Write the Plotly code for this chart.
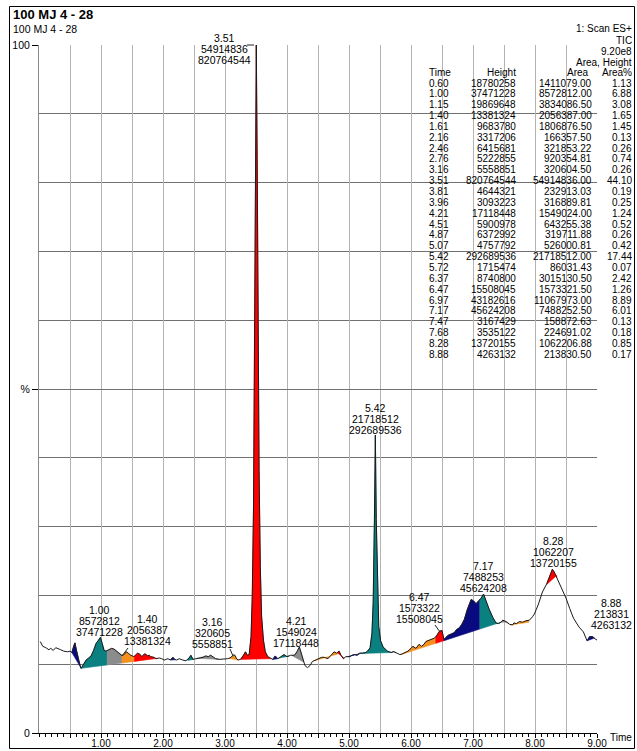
import math
import numpy as np
import plotly.graph_objects as go

# ---------------------------------------------------------------------------
# TIC trace: retention time (min) and relative intensity (% of 9.20e8)
# ---------------------------------------------------------------------------
trace_time = [
    0.02, 0.06, 0.11, 0.16, 0.19, 0.23, 0.27, 0.31, 0.35, 0.40, 0.46, 0.50,
    0.53, 0.56, 0.58, 0.60, 0.63, 0.66, 0.68, 0.72, 0.76, 0.80, 0.84, 0.88,
    0.92, 0.96, 0.99, 1.02, 1.05, 1.08, 1.10, 1.13, 1.17, 1.21, 1.25, 1.30,
    1.33, 1.36, 1.38, 1.41, 1.44, 1.48, 1.53, 1.56, 1.59, 1.62, 1.66, 1.70,
    1.73, 1.75, 1.78, 1.80, 1.85, 1.89, 1.94, 1.98, 2.02, 2.08, 2.12, 2.16,
    2.19, 2.22, 2.26, 2.32, 2.37, 2.42, 2.45, 2.48, 2.53, 2.57, 2.61, 2.65,
    2.69, 2.73, 2.77, 2.81, 2.85, 2.91, 2.96, 3.01, 3.04, 3.08, 3.11, 3.14,
    3.16, 3.18, 3.21, 3.25, 3.30, 3.33, 3.36, 3.39, 3.42, 3.44, 3.46, 3.48,
    3.49, 3.505, 3.52, 3.53, 3.55, 3.57, 3.59, 3.62, 3.65, 3.69, 3.74, 3.77,
    3.81, 3.85, 3.89, 3.95, 4.00, 4.06, 4.12, 4.16, 4.20, 4.23, 4.26, 4.29,
    4.33, 4.37, 4.41, 4.46, 4.52, 4.56, 4.60, 4.66, 4.71, 4.76, 4.80, 4.84,
    4.87, 4.91, 4.95, 5.01, 5.05, 5.09, 5.13, 5.17, 5.22, 5.27, 5.30, 5.34,
    5.37, 5.39, 5.41, 5.425, 5.44, 5.46, 5.48, 5.51, 5.55, 5.62, 5.68, 5.72,
    5.77, 5.82, 5.86, 5.90, 5.95, 6.00, 6.03, 6.08, 6.13, 6.17, 6.21, 6.24,
    6.30, 6.34, 6.38, 6.41, 6.46, 6.50, 6.53, 6.56, 6.60, 6.65, 6.70, 6.73,
    6.78, 6.82, 6.86, 6.91, 6.95, 6.97, 7.01, 7.05, 7.09, 7.13, 7.17, 7.21,
    7.26, 7.32, 7.37, 7.41, 7.45, 7.48, 7.53, 7.59, 7.64, 7.66, 7.70, 7.75,
    7.80, 7.85, 7.91, 7.96, 7.99, 8.05, 8.12, 8.19, 8.24, 8.28, 8.31, 8.35,
    8.42, 8.50, 8.56, 8.62, 8.71, 8.78, 8.84, 8.88, 8.93, 8.98, 9.03,
]
trace_pct = [
    13.3, 12.6, 12.4, 12.1, 12.3, 12.0, 12.4, 12.2, 12.1, 11.9, 11.8, 11.9,
    11.7, 12.7, 13.1, 12.2, 10.9, 9.9, 9.4, 10.0, 10.6, 10.9, 11.2, 12.0,
    13.0, 13.5, 13.9, 13.0, 12.0, 11.9, 12.0, 12.1, 12.3, 12.2, 11.9, 11.6,
    11.3, 11.3, 11.5, 11.8, 11.6, 11.3, 11.1, 11.3, 11.6, 11.5, 11.1, 11.5,
    11.4, 11.2, 11.3, 11.1, 11.0, 10.8, 10.9, 10.8, 10.6, 10.8, 10.6, 11.0,
    10.7, 10.6, 10.8, 10.6, 10.5, 10.9, 11.3, 10.7, 10.8, 10.9, 11.0, 11.0,
    11.2, 11.1, 11.3, 11.0, 10.8, 10.7, 10.7, 10.8, 10.8, 10.9, 11.1, 11.35,
    11.3, 10.9, 10.6, 10.7, 11.3, 11.8, 11.3, 11.4, 14.0, 20.0, 33.0, 58.0,
    80.0, 100.0, 82.0, 62.0, 38.0, 24.0, 17.0, 13.5, 11.8, 11.1, 10.8, 10.7,
    11.2, 10.8, 11.0, 11.4, 11.1, 11.3, 11.3, 11.8, 12.5, 11.6, 10.6, 9.8,
    9.5, 9.8, 10.4, 10.6, 10.9, 11.0, 11.0, 10.8, 11.3, 11.8, 11.6, 11.9,
    11.3, 10.8, 11.1, 11.1, 11.3, 11.4, 11.3, 11.6, 11.6, 11.7, 11.9, 12.4,
    14.5, 19.0, 31.0, 43.3, 31.0, 20.0, 15.5, 13.4, 12.5, 11.9, 11.7, 11.85,
    11.6, 11.4, 11.5, 11.7, 11.9, 12.3, 12.6, 12.3, 12.9, 12.6, 12.9, 13.3,
    13.5, 13.7, 13.8, 14.1, 14.8, 14.9, 13.6, 13.9, 14.2, 14.4, 14.6, 15.0,
    15.3, 15.8, 16.5, 18.0, 19.0, 19.4, 19.2, 18.8, 19.2, 19.6, 20.2, 19.2,
    18.0, 16.8, 16.0, 15.9, 16.1, 16.4, 16.2, 15.8, 15.7, 16.0, 15.9, 16.2,
    16.1, 16.3, 16.4, 16.9, 17.3, 18.6, 20.5, 21.7, 22.9, 23.8, 23.4, 22.6,
    21.3, 19.6, 18.1, 16.7, 15.4, 14.7, 13.4, 14.0, 14.0, 13.6, 13.4,
]

# ---------------------------------------------------------------------------
# Peak list
# ---------------------------------------------------------------------------
peak_time = [0.60, 1.00, 1.15, 1.40, 1.61, 2.16, 2.46, 2.76, 3.16, 3.51,
             3.81, 3.96, 4.21, 4.51, 4.87, 5.07, 5.42, 5.72, 6.37, 6.47,
             6.97, 7.17, 7.47, 7.68, 8.28, 8.88]
peak_height = [18780258, 37471228, 19869648, 13381324, 9683780, 3317206,
               6415681, 5222855, 5558851, 820764544, 4644321, 3093223,
               17118448, 5900978, 6372992, 4757792, 292689536, 1715474,
               8740800, 15508045, 43182616, 45624208, 3167429, 3535122,
               13720155, 4263132]
peak_area = [1411079.00, 8572812.00, 3834086.50, 2056387.00, 1806876.50,
             166357.50, 321853.22, 920354.81, 320604.50, 54914836.00,
             232913.03, 316889.81, 1549024.00, 643255.38, 319711.88,
             526000.81, 21718512.00, 86031.43, 3015130.50, 1573321.50,
             11067973.00, 7488252.50, 158872.63, 224691.02, 1062206.88,
             213830.50]
peak_area_pct = [1.13, 6.88, 3.08, 1.65, 1.45, 0.13, 0.26, 0.74, 0.26, 44.10,
                 0.19, 0.25, 1.24, 0.52, 0.26, 0.42, 17.44, 0.07, 2.42, 1.26,
                 8.89, 6.01, 0.13, 0.18, 0.85, 0.17]

# Integration limits (min) and baseline level at each limit (%)
peak_start = [0.53, 0.68, 1.10, 1.34, 1.54, 2.12, 2.40, 2.55, 3.06, 3.25,
              3.77, 3.87, 4.09, 4.43, 4.82, 4.98, 5.18, 5.70, 5.84, 6.40,
              6.53, 7.11, 7.45, 7.60, 8.19, 8.84]
peak_end = [0.68, 1.10, 1.34, 1.54, 1.91, 2.20, 2.49, 2.91, 3.21, 3.74,
            3.85, 4.03, 4.27, 4.82, 4.92, 5.18, 5.70, 5.76, 6.40, 6.53,
            7.11, 7.45, 7.56, 7.90, 8.35, 8.96]
base_start = [11.7, 9.4, 9.90, 10.18, 10.41, 10.6, 10.55, 10.8, 10.85, 10.7,
              10.7, 10.9, 11.2, 10.5, 11.6, 11.1, 11.55, 11.7, 11.4, 13.03,
              13.41, 15.11, 16.1, 15.7, 21.6, 13.4]
base_end = [9.4, 9.90, 10.18, 10.41, 10.85, 10.65, 10.7, 10.7, 10.6, 10.8,
            10.8, 11.15, 10.3, 11.5, 10.9, 11.55, 11.7, 11.65, 13.03, 13.41,
            15.11, 16.1, 16.1, 16.1, 22.9, 13.8]

labelled_peaks = [1.00, 1.40, 3.16, 3.51, 4.21, 5.42, 6.47, 7.17, 8.28, 8.88]

x_tick_vals = [0.5 * k for k in range(1, 19)]
x_tick_text = [f"{v:.2f}" if float(v).is_integer() else "" for v in x_tick_vals]

# ---------------------------------------------------------------------------
# Page geometry (pixels)
# ---------------------------------------------------------------------------
W, H = 637, 751
L, R, T, B = 39, 597, 45, 733
PW, PH = R - L, B - T
FONT = "Liberation Sans, Arial, sans-serif"
fill_cycle = ["#0a0a80", "#0b8080", "#8c8c8c", "#f5901e", "#ff0000"]


def px(x):
    return (x - L) / PW


def py(y):
    return (B - y) / PH


def text_at(x, y, text, size=10, anchor="center", bold=False):
    if bold:
        text = f"<b>{text}</b>"
    return dict(x=px(x), y=py(y), xref="paper", yref="paper", text=text,
                showarrow=False, xanchor=anchor, yanchor="middle",
                borderpad=0, font=dict(size=size, color="black", family=FONT))


def half_up(v):
    return int(math.floor(v + 0.5))


fig = go.Figure()

# Integrated peak areas, filled down to their baselines
tt = np.array(trace_time)
yy = np.array(trace_pct)
for i in range(len(peak_time)):
    s, e = peak_start[i], peak_end[i]
    inner = tt[(tt > s) & (tt < e)]
    xs = [s] + list(inner) + [e]
    ys = list(np.interp(xs, tt, yy))
    poly_x = xs + [e, s, s]
    poly_y = ys + [base_end[i], base_start[i], ys[0]]
    color = fill_cycle[i % len(fill_cycle)]
    fig.add_trace(go.Scatter(
        x=poly_x, y=poly_y, mode="lines", fill="toself",
        fillcolor=color, line=dict(color=color, width=0.6),
        hoverinfo="skip", showlegend=False))

# Chromatogram line
fig.add_trace(go.Scatter(
    x=trace_time, y=trace_pct, mode="lines",
    line=dict(color="#1a1a1a", width=1),
    hoverinfo="skip", showlegend=False))

annotations = []

# Header
annotations.append(text_at(12, 15, "100 MJ 4 - 28", size=13, anchor="left", bold=True))
annotations.append(text_at(12, 29, "100 MJ 4 - 28", size=10.5, anchor="left"))
annotations.append(text_at(633, 29, "1: Scan ES+", anchor="right"))
annotations.append(text_at(633, 40, "TIC", anchor="right"))
annotations.append(text_at(633, 51, "9.20e8", anchor="right"))
annotations.append(text_at(633, 62, "Area, Height", anchor="right"))

# Peak table
col_time, col_height, col_area, col_pct = 450, 517, 593, 633
row0, row_step = 83.0, 10.85
head_y = 72.5
annotations.append(text_at(452, head_y, "Time", anchor="right"))
annotations.append(text_at(col_height, head_y, "Height", anchor="right"))
annotations.append(text_at(col_area - 3, head_y, "Area", anchor="right"))
annotations.append(text_at(col_pct, head_y, "Area%", anchor="right"))
for i in range(len(peak_time)):
    y = row0 + i * row_step
    annotations.append(text_at(col_time, y, f"{peak_time[i]:.2f}", anchor="right"))
    annotations.append(text_at(col_height, y, f"{peak_height[i]}", anchor="right"))
    annotations.append(text_at(col_area, y, f"{peak_area[i]:.2f}", anchor="right"))
    annotations.append(text_at(col_pct, y, f"{peak_area_pct[i]:.2f}", anchor="right"))

# Peak labels: time / area / height
label_pos = {
    1.00: (99, 610), 1.40: (147, 619), 3.16: (212, 622), 3.51: (224, 38),
    4.21: (296, 621), 5.42: (375, 408), 6.47: (419, 597), 7.17: (483, 566),
    8.28: (553, 541), 8.88: (611, 603),
}
for t in labelled_peaks:
    i = peak_time.index(t)
    cx, cy = label_pos[t]
    lines = [f"{peak_time[i]:.2f}", f"{half_up(peak_area[i])}", f"{peak_height[i]}"]
    for k, s in enumerate(lines):
        annotations.append(text_at(cx, cy + k * 11, s, size=10.5))

# Axis title
annotations.append(text_at(609, 737, "Time", anchor="left"))

shapes = [
    # outer frame
    dict(type="rect", xref="paper", yref="paper",
         x0=px(9.5), x1=px(634.5), y0=py(6.5), y1=py(748.5),
         line=dict(color="black", width=1), fillcolor="rgba(0,0,0,0)", layer="above"),
]
# label leader ticks
for (x0, y0, x1, y1) in [(247, 45, 254, 45), (122, 656, 128, 648),
                         (230, 649, 233, 656), (435, 625, 440, 632)]:
    shapes.append(dict(type="line", xref="paper", yref="paper",
                       x0=px(x0), y0=py(y0), x1=px(x1), y1=py(y1),
                       line=dict(color="#222222", width=1), layer="above"))

fig.update_layout(
    width=W, height=H, autosize=False,
    margin=dict(l=L, r=W - R, t=T, b=H - B, pad=0, autoexpand=False),
    paper_bgcolor="white", plot_bgcolor="white",
    font=dict(family=FONT, size=10, color="black"),
    annotations=annotations, shapes=shapes, showlegend=False,
)
fig.update_xaxes(
    range=[0, 9], tickvals=x_tick_vals, ticktext=x_tick_text,
    showgrid=True, gridcolor="#b4b4b4", gridwidth=1,
    ticks="outside", ticklen=4, tickcolor="black", tickwidth=1,
    ticklabelstandoff=-3,
    minor=dict(dtick=0.1, tick0=0, ticks="outside", ticklen=3,
               tickcolor="black", showgrid=False),
    showline=True, linecolor="black", linewidth=1, zeroline=False,
    automargin=False,
    tickfont=dict(size=10, family=FONT, color="black"), fixedrange=True,
)
fig.update_yaxes(
    range=[0, 100], tickvals=[0, 50, 100], ticktext=["0", "%", "100"],
    showgrid=True, gridcolor="#707070", gridwidth=1,
    minor=dict(dtick=10, tick0=0, showgrid=True, gridcolor="#707070",
               gridwidth=1, ticks=""),
    ticks="outside", ticklen=6, tickcolor="black", tickwidth=1,
    showline=True, linecolor="#8a8a8a", linewidth=1, zeroline=False,
    automargin=False,
    tickfont=dict(size=10.5, family=FONT, color="black"), fixedrange=True,
)

fig.write_html("out.html")
